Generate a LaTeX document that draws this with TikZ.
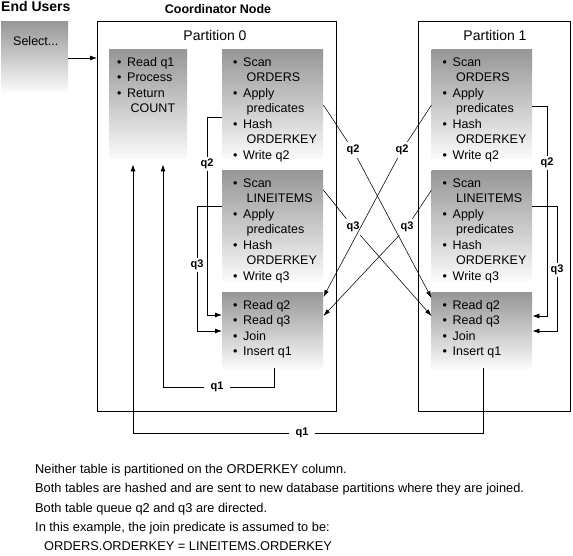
\documentclass[tikz,border=0pt]{standalone}
\usepackage{fontspec}
\setmainfont{Liberation Sans}
\usetikzlibrary{arrows.meta,calc}
\definecolor{gtop}{RGB}{150,150,150}
\definecolor{gbot}{RGB}{250,250,250}
\newcommand\bi[1]{\makebox[10pt][l]{•}#1}
\newcommand\ci[1]{\hspace*{13.5pt}#1}
\newcommand\bxt[4]{\parbox[t][#1][t]{#2}{\leftskip=#3\relax\parindent=0pt\fontsize{12.5}{15.45}\selectfont\vspace*{6.5pt}\strut#4}}
\tikzset{
  gbox/.style={anchor=north west, inner sep=0pt, top color=gtop, bottom color=gbot, draw=none},
  part/.style={draw, line width=0.8pt, anchor=north west, inner sep=0pt},
  ptxt/.style={font=\fontsize{14}{16}\selectfont, inner sep=0pt},
  ln/.style={line width=0.8pt},
  arr/.style={ln, -{Latex[length=7pt,width=5pt]}},
  xln/.style={line width=0.55pt},
  xarr/.style={xln, -{Latex[length=7pt,width=4.5pt]}},
  lbl/.style={font=\fontsize{11}{12}\selectfont\bfseries, inner sep=1.5pt},
  xlbl/.style={font=\fontsize{11}{12}\selectfont\bfseries, inner sep=3pt},
  capt/.style={inner sep=0pt, anchor=base west}
}
\begin{document}
\begin{tikzpicture}[x=1pt,y=-1pt]
\useasboundingbox (0,0) rectangle (573,555);
% titles
\node[inner sep=0pt, anchor=base west, font=\fontsize{14}{16}\selectfont\bfseries] (eu) at (1,11) {End Users};
\node[inner sep=0pt, anchor=base, font=\fontsize{12.5}{15}\selectfont\bfseries] (cn) at (218,13) {Coordinator Node};
% end users box
\node[gbox] (sel) at (1,21) {\parbox[t][70pt][t]{67pt}{\leftskip=12pt\relax\parindent=0pt\fontsize{12.5}{15}\selectfont\vspace*{13.5pt}\strut Select...}};
% partitions
\node[part, minimum width=239pt, minimum height=390pt] (p0) at (97,21) {};
\node[part, minimum width=152.5pt, minimum height=390pt] (p1) at (417.5,21) {};
\node[ptxt, anchor=base] (p0t) at (215,40.5) {Partition 0};
\node[ptxt, anchor=base] (p1t) at (495,40.5) {Partition 1};
% partition 0 boxes
\node[gbox] (a0) at (109,49) {\bxt{109pt}{78pt}{8pt}{\bi{Read q1}\\\bi{Process}\\\bi{Return}\\\ci{COUNT}}};
\node[gbox] (b0) at (222,49) {\bxt{109pt}{101pt}{11pt}{\bi{Scan}\\\ci{ORDERS}\\\bi{Apply}\\\ci{predicates}\\\bi{Hash}\\\ci{ORDERKEY}\\\bi{Write q2}}};
\node[gbox] (c0) at (222,170) {\bxt{110pt}{101pt}{11pt}{\bi{Scan}\\\ci{LINEITEMS}\\\bi{Apply}\\\ci{predicates}\\\bi{Hash}\\\ci{ORDERKEY}\\\bi{Write q3}}};
\node[gbox] (d0) at (222,292) {\bxt{76pt}{101pt}{11pt}{\bi{Read q2}\\\bi{Read q3}\\\bi{Join}\\\bi{Insert q1}}};
% partition 1 boxes
\node[gbox] (b1) at (431.5,49) {\bxt{109pt}{100.5pt}{11pt}{\bi{Scan}\\\ci{ORDERS}\\\bi{Apply}\\\ci{predicates}\\\bi{Hash}\\\ci{ORDERKEY}\\\bi{Write q2}}};
\node[gbox] (c1) at (431.5,170) {\bxt{110pt}{100.5pt}{11pt}{\bi{Scan}\\\ci{LINEITEMS}\\\bi{Apply}\\\ci{predicates}\\\bi{Hash}\\\ci{ORDERKEY}\\\bi{Write q3}}};
\node[gbox] (d1) at (431.5,292) {\bxt{76pt}{100.5pt}{11pt}{\bi{Read q2}\\\bi{Read q3}\\\bi{Join}\\\bi{Insert q1}}};
% select -> partition 0
\draw[arr] ($(sel.north east)+(0,37)$) -- ($(p0.north west)+(0,37)$);
% crossing table queues
\node[xlbl] (x2a) at (353,150) {q2};
\node[xlbl] (x2b) at (402,150) {q2};
\node[xlbl] (x3a) at (353,227) {q3};
\node[xlbl] (x3b) at (407,227) {q3};
\draw[xln] ($(b0.north east)+(0,56)$) -- (x2a);
\draw[xarr] (x2a) -- ($(d1.north west)+(0,6)$);
\draw[xln] ($(b1.north west)+(0,56)$) -- (x2b);
\draw[xarr] (x2b) -- ($(d0.north east)+(0,5)$);
\draw[xln] ($(c0.north east)+(0,20)$) -- (x3a);
\draw[xarr] (x3a) -- ($(d1.north west)+(0,24)$);
\draw[xln] ($(c1.north west)+(0,20)$) -- (x3b);
\draw[xarr] (x3b) -- ($(d0.north east)+(0,24)$);
% local loops
\node[lbl] (l2a) at (207,164) {q2};
\draw[ln] ($(b0.north west)+(0,68)$) -| (l2a.north);
\draw[arr] (l2a.south) |- ($(d0.north west)+(0,23)$);
\node[lbl] (l3a) at (197,265) {q3};
\draw[ln] ($(c0.north west)+(0,36)$) -| (l3a.north);
\draw[arr] (l3a.south) |- ($(d0.north west)+(0,39)$);
\node[lbl] (l2b) at (547,163) {q2};
\draw[ln] ($(b1.north east)+(0,57)$) -| (l2b.north);
\draw[arr] (l2b.south) |- ($(d1.north east)+(0,24)$);
\node[lbl] (l3b) at (557,270) {q3};
\draw[ln] ($(c1.north east)+(0,36)$) -| (l3b.north);
\draw[arr] (l3b.south) |- ($(d1.north east)+(0,39)$);
% q1 returns
\node[lbl, inner xsep=6pt] (q1a) at (217,387) {q1};
\draw[ln] ($(d0.south west)+(52,0)$) |- (q1a.east);
\draw[arr] (q1a.west) -| ($(a0.south west)+(54,6)$);
\node[lbl, inner xsep=6pt] (q1b) at (302,433) {q1};
\draw[ln] ($(d1.south west)+(51.5,0)$) |- (q1b.east);
\draw[arr] (q1b.west) -| ($(a0.south west)+(24,6)$);
% caption
\node[capt] (cap) at (35,473.5) {\parbox[t]{535pt}{\parindent=0pt\fontsize{12.8}{19.3}\selectfont
Neither table is partitioned on the ORDERKEY column.\\
Both tables are hashed and are sent to new database partitions where they are joined.\\
Both table queue q2 and q3 are directed.\\
In this example, the join predicate is assumed to be:\\
\hspace*{9pt}ORDERS.ORDERKEY = LINEITEMS.ORDERKEY}};
\end{tikzpicture}
\end{document}
